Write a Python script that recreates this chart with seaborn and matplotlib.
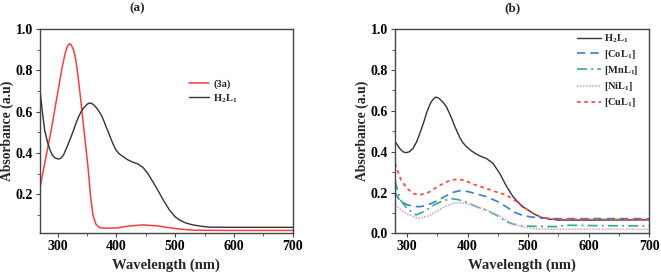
import numpy as np
import pandas as pd
import seaborn as sns
import matplotlib
matplotlib.use("Agg")
import matplotlib.pyplot as plt
from matplotlib.ticker import MultipleLocator

# ---------------- data: panel (a) ----------------
a_3a_wl = [270, 278, 289, 300, 308, 313, 317, 320, 323, 327, 330, 333, 336, 340, 346, 352,
           356, 360, 365, 370, 375, 380, 400, 420, 445, 470, 500, 530, 600, 700]
a_3a_abs = [0.23, 0.35, 0.51, 0.69, 0.82, 0.885, 0.92, 0.93, 0.925, 0.90, 0.865, 0.81, 0.74,
            0.64, 0.48, 0.32, 0.19, 0.10, 0.055, 0.04, 0.036, 0.035, 0.036, 0.045, 0.051,
            0.046, 0.033, 0.025, 0.024, 0.024]

a_h2l1_wl = [270, 274, 278, 283, 287, 291, 295, 301, 306, 310, 316, 322, 327, 332, 336, 340,
             344, 348, 351, 354, 358, 362, 368, 374, 378, 382, 388, 394, 399, 405, 410, 419,
             428, 436, 445, 453, 462, 470, 480, 490, 500, 507, 518, 530, 545, 558, 600, 700]
a_h2l1_abs = [0.706, 0.60, 0.51, 0.45, 0.415, 0.39, 0.377, 0.37, 0.375, 0.39, 0.43, 0.472,
              0.51, 0.55, 0.578, 0.60, 0.618, 0.63, 0.638, 0.642, 0.64, 0.632, 0.612, 0.585,
              0.56, 0.53, 0.488, 0.445, 0.415, 0.395, 0.385, 0.367, 0.355, 0.347, 0.33, 0.302,
              0.26, 0.221, 0.17, 0.124, 0.09, 0.075, 0.06, 0.051, 0.044, 0.04, 0.039, 0.039]

# ---------------- data: panel (b) ----------------
b_h2l1_wl = [280, 288, 293, 298, 304, 310, 316, 321, 327, 332, 336, 340, 344, 347, 351, 355,
             360, 365, 372, 379, 387, 392, 398, 406, 414, 422, 431, 442, 453, 464, 475, 489,
             500, 510, 520, 535, 550, 600, 700]
b_h2l1_abs = [0.45, 0.415, 0.40, 0.395, 0.40, 0.417, 0.45, 0.49, 0.54, 0.588, 0.62, 0.645,
              0.66, 0.667, 0.665, 0.655, 0.64, 0.62, 0.575, 0.523, 0.47, 0.445, 0.425, 0.405,
              0.389, 0.377, 0.367, 0.343, 0.294, 0.232, 0.18, 0.134, 0.114, 0.095, 0.08, 0.07,
              0.065, 0.065, 0.066]

b_co_wl = [280, 288, 300, 310, 321, 335, 350, 365, 375, 387, 400, 415, 431, 450, 464, 476,
           489, 503, 520, 540, 600, 700]
b_co_abs = [0.20, 0.16, 0.14, 0.133, 0.13, 0.14, 0.16, 0.185, 0.20, 0.209, 0.205, 0.193, 0.18,
            0.155, 0.13, 0.105, 0.09, 0.081, 0.075, 0.072, 0.072, 0.072]

b_mn_wl = [280, 285, 290, 300, 315, 330, 345, 360, 373, 385, 400, 415, 431, 450, 464, 476,
           489, 510, 550, 560, 600, 700]
b_mn_abs = [0.26, 0.20, 0.16, 0.12, 0.09, 0.11, 0.14, 0.16, 0.17, 0.165, 0.15, 0.13, 0.114,
            0.085, 0.057, 0.045, 0.037, 0.034, 0.033, 0.04, 0.038, 0.036]

b_ni_wl = [280, 290, 300, 318, 335, 350, 365, 377, 387, 400, 415, 431, 450, 464, 476, 489,
           510, 550, 700]
b_ni_abs = [0.139, 0.115, 0.095, 0.073, 0.085, 0.11, 0.135, 0.148, 0.15, 0.145, 0.13, 0.114,
            0.09, 0.065, 0.045, 0.033, 0.022, 0.02, 0.02]

b_cu_wl = [280, 290, 300, 310, 321, 335, 350, 365, 375, 384, 395, 410, 431, 450, 464, 476,
           489, 503, 520, 540, 600, 700]
b_cu_abs = [0.343, 0.26, 0.22, 0.195, 0.188, 0.20, 0.228, 0.252, 0.262, 0.265, 0.26, 0.24,
            0.22, 0.20, 0.188, 0.165, 0.139, 0.106, 0.081, 0.07, 0.068, 0.068]

label_3a = "(3a)"
label_h2l1 = r"H$_2$L$_1$"
label_co = r"[CoL$_1$]"
label_mn = r"[MnL$_1$]"
label_ni = r"[NiL$_1$]"
label_cu = r"[CuL$_1$]"

# ---------------- style ----------------
sns.set_style("ticks")
plt.rcParams["font.family"] = ["Liberation Serif", "DejaVu Serif"]
plt.rcParams["font.weight"] = "bold"
plt.rcParams["mathtext.fontset"] = "custom"
plt.rcParams["mathtext.rm"] = "Liberation Serif:bold"
plt.rcParams["mathtext.bf"] = "Liberation Serif:bold"
plt.rcParams["mathtext.default"] = "bf"
plt.rcParams["axes.edgecolor"] = "#444444"
plt.rcParams["axes.linewidth"] = 1.0
plt.rcParams["xtick.color"] = "#444444"
plt.rcParams["ytick.color"] = "#444444"
plt.rcParams["xtick.labelcolor"] = "black"
plt.rcParams["ytick.labelcolor"] = "black"

fig = plt.figure(figsize=(6.61, 2.78), dpi=100)
ax1 = fig.add_axes([0.0605, 0.1607, 0.3825, 0.734])
ax2 = fig.add_axes([0.5976, 0.1607, 0.3844, 0.734])

dark = "#333333"
red = "#ff3b3b"

def draw(ax, wl, ab, **kw):
    df = pd.DataFrame({"wl": wl, "abs": ab})
    sns.lineplot(data=df, x="wl", y="abs", ax=ax, sort=False, estimator=None, **kw)

# Panel (a)
draw(ax1, a_3a_wl, a_3a_abs, color=red, lw=1.1, label=label_3a)
draw(ax1, a_h2l1_wl, a_h2l1_abs, color=dark, lw=1.0, label=label_h2l1)
ax1.set_xlim(270, 700)
ax1.set_ylim(0.01, 1.0)
ax1.set_yticks([0.2, 0.4, 0.6, 0.8, 1.0])
ax1.legend(loc="upper left", bbox_to_anchor=(0.59, 0.755), frameon=False,
           prop={"size": 7.5, "weight": "bold"}, borderpad=0,
           handlelength=1.9, handletextpad=0.4, labelspacing=0.3, borderaxespad=0)

# Panel (b)
draw(ax2, b_h2l1_wl, b_h2l1_abs, color=dark, lw=1.0, label=label_h2l1)
draw(ax2, b_co_wl, b_co_abs, color="#3b7bd0", lw=1.2, label=label_co)
draw(ax2, b_mn_wl, b_mn_abs, color="#2fb07a", lw=1.2, label=label_mn)
draw(ax2, b_ni_wl, b_ni_abs, color="#d9a2e2", lw=1.2, label=label_ni)
draw(ax2, b_cu_wl, b_cu_abs, color="#ff4a4a", lw=1.3, label=label_cu)
lines = ax2.get_lines()
lines[1].set_dashes([5, 3])
lines[2].set_dashes([6, 2.5, 1.2, 2.5])
lines[3].set_dashes([1, 0.8])
lines[4].set_dashes([2, 2])
ax2.set_xlim(280, 700)
ax2.set_ylim(0.0, 1.0)
ax2.set_yticks([0.0, 0.2, 0.4, 0.6, 0.8, 1.0])
ax2.legend(loc="upper left", bbox_to_anchor=(0.715, 0.985), frameon=False,
           prop={"size": 7.5, "weight": "bold"}, borderpad=0,
           handlelength=2.3, handletextpad=0.35, labelspacing=0.3, borderaxespad=0)

for ax in (ax1, ax2):
    ax.set_xticks([300, 400, 500, 600, 700])
    ax.xaxis.set_minor_locator(MultipleLocator(50))
    ax.yaxis.set_minor_locator(MultipleLocator(0.1))
    ax.tick_params(which="major", length=3, width=0.8, labelsize=10, pad=2)
    ax.tick_params(which="minor", length=2, width=0.6)
    for side in ("top", "right"):
        ax.spines[side].set_visible(True)
    ax.set_xlabel("Wavelength (nm)", fontsize=10.5, fontweight="bold", labelpad=4)
    ax.set_ylabel("Absorbance (a.u)", fontsize=9.8, fontweight="bold", labelpad=1)
    for t in ax.get_xticklabels() + ax.get_yticklabels():
        t.set_fontweight("bold")

fig.text(0.207, 0.972, "(a)", ha="center", va="center", fontsize=9.5, fontweight="bold")
fig.text(0.775, 0.972, "(b)", ha="center", va="center", fontsize=9.5, fontweight="bold")

fig.savefig("out.png", dpi=100)
